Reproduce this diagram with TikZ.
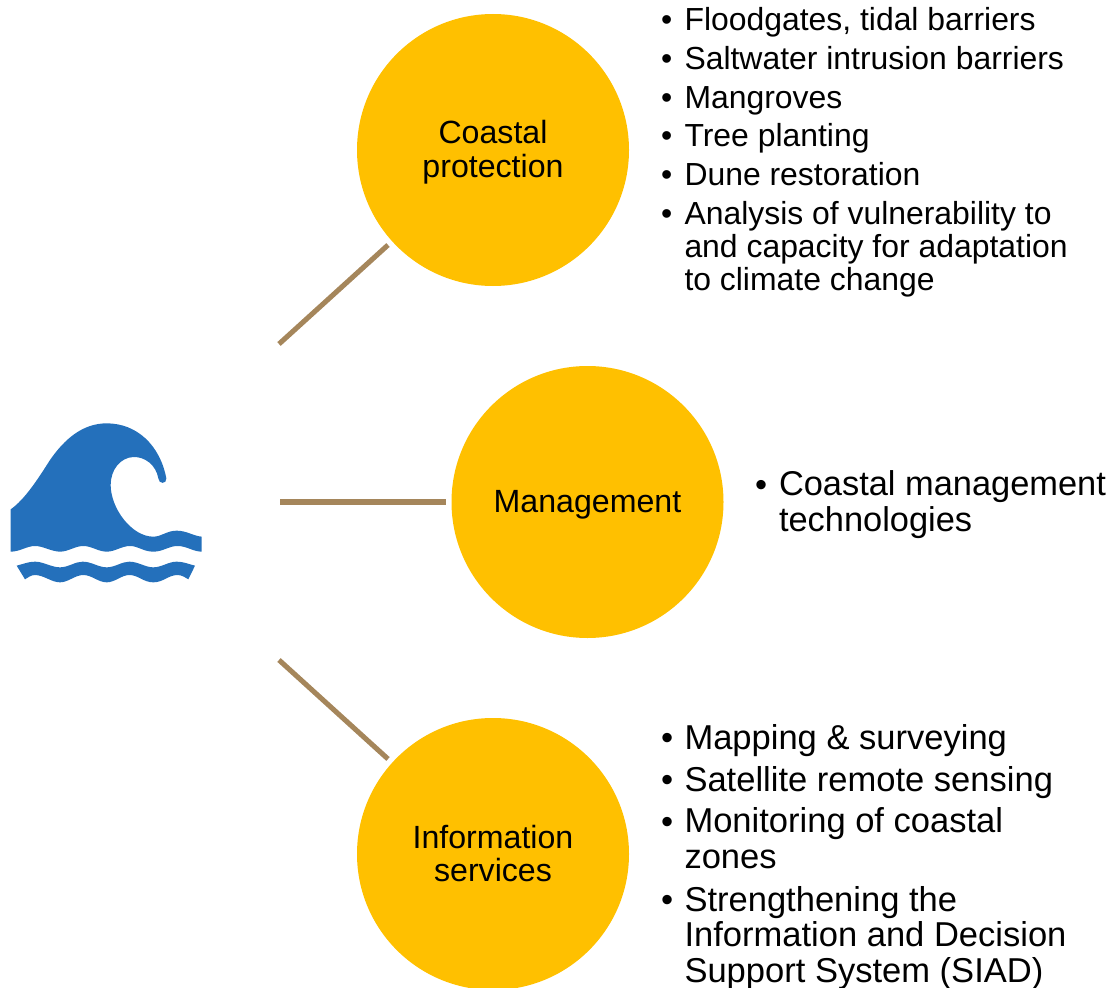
\documentclass[tikz,border=0pt]{standalone}
\usepackage{fontspec}
\setmainfont{Liberation Sans}
\newcommand{\fsCircle}{\fontsize{24.1pt}{25.5pt}\selectfont}
\newcommand{\fsListA}{\fontsize{23.93pt}{24.75pt}\selectfont}
\newcommand{\fsListC}{\fontsize{25.9pt}{26.6pt}\selectfont}
\newcommand{\fsListB}{\fontsize{25.8pt}{26.6pt}\selectfont}
\definecolor{amberfill}{HTML}{FFC000}
\definecolor{linktan}{HTML}{A5865B}
\definecolor{waveblue}{HTML}{2470BB}
\tikzset{
  topic/.style={circle,fill=amberfill,minimum size=204pt,inner sep=0pt,align=center,font=\fsCircle,text=black},
  link/.style={draw=linktan,line width=3.8pt},
  txt/.style={anchor=base west,inner sep=0pt,outer sep=0pt,align=left,text=black},
  itemA/.style={txt,font=\fsListA},
  itemB/.style={txt,font=\fsListB},
  itemC/.style={txt,font=\fsListC}
}
\begin{document}
\begin{tikzpicture}[x=0.75pt,y=-0.75pt]
\useasboundingbox (0,0) rectangle (1114,988);
\begin{scope}
\clip (0,0) rectangle (1114,988);
\node[topic] (coastal) at (493,150) {};
\node[topic] (mgmt) at (587.5,502) {};
\node[topic] (info) at (493,854) {};
\end{scope}
\node[txt,anchor=base,align=center,font=\fsCircle] (lcoastal1) at (493,144) {Coastal};
\node[txt,anchor=base,align=center,font=\fsCircle] (lcoastal2) at (493,177.5) {protection};
\node[txt,anchor=base,align=center,font=\fsCircle] (lmgmt) at (587.5,512) {Management};
\node[txt,anchor=base,align=center,font=\fsCircle] (linfo1) at (493,848) {Information};
\node[txt,anchor=base,align=center,font=\fsCircle] (linfo2) at (493,881) {services};
% connectors
\coordinate (a1) at (279,344);
\coordinate (a2) at (388,245);
\coordinate (b1) at (280,502);
\coordinate (b2) at (446,502);
\coordinate (c1) at (279,660);
\coordinate (c2) at (388,759);
\draw[link] (a1) -- (a2);
\draw[link] (b1) -- (b2);
\draw[link] (c1) -- (c2);
% wave
\begin{scope}[shift={(0,410)},x=0.25pt,y=-0.25pt]
\fill[waveblue] (32,298)
  .. controls (75,268) and (115,205) .. (150,150)
  .. controls (195,85) and (250,40) .. (320,40)
  .. controls (410,40) and (480,105) .. (499,205)
  .. controls (501,222) and (476,224) .. (475,205)
  .. controls (468,165) and (435,140) .. (400,141)
  .. controls (360,143) and (332,180) .. (332,225)
  .. controls (332,295) and (395,380) .. (460,380)
  .. controls (485,380) and (500,362) .. (530,362)
  .. controls (560,362) and (580,378) .. (605,380)
  -- (605,425)
  .. controls (580,425) and (560,408) .. (533,408)
  .. controls (505,408) and (490,425) .. (460,425)
  .. controls (430,425) and (415,408) .. (390,408)
  .. controls (365,408) and (345,425) .. (320,425)
  .. controls (295,425) and (275,408) .. (250,408)
  .. controls (225,408) and (205,425) .. (180,425)
  .. controls (155,425) and (130,408) .. (105,408)
  .. controls (80,408) and (60,425) .. (32,425)
  -- cycle;
\fill[waveblue] (50,467)
  .. controls (70,462) and (85,455) .. (105,455)
  .. controls (130,455) and (155,472) .. (180,472)
  .. controls (205,472) and (225,455) .. (248,455)
  .. controls (275,455) and (295,472) .. (320,472)
  .. controls (345,472) and (365,455) .. (388,455)
  .. controls (415,455) and (435,472) .. (460,472)
  .. controls (485,472) and (505,455) .. (530,455)
  .. controls (550,455) and (565,462) .. (585,467)
  -- (565,508)
  .. controls (555,502) and (545,495) .. (533,495)
  .. controls (505,495) and (490,517) .. (460,517)
  .. controls (430,517) and (415,495) .. (388,495)
  .. controls (365,495) and (345,517) .. (320,517)
  .. controls (295,517) and (275,495) .. (250,495)
  .. controls (225,495) and (205,517) .. (180,517)
  .. controls (155,517) and (130,495) .. (105,495)
  .. controls (93,495) and (85,502) .. (75,508)
  -- cycle;
\end{scope}
% list 1 (\y = first line, \z = last line, the base of a multi-line node)
\foreach \n/\y/\z/\t in {1/31/31/{Floodgates, tidal barriers},2/70/70/{Saltwater intrusion barriers},3/109/109/{Mangroves},4/147/147/{Tree planting},5/186/186/{Dune restoration},6/224/290.5/{Analysis of vulnerability to\\and capacity for adaptation\\to climate change}}{
  \node[itemA] (ab\n) at (661,\y) {•};
  \node[itemA] (at\n) at (684.5,\z) {\t};
}
% list 2
\node[itemB] (bb1) at (755,496) {•};
\node[itemB] (bt1) at (779,531) {Coastal management\\technologies};
% list 3
\foreach \n/\y/\z/\t in {1/749/749/{Mapping \& surveying},2/791/791/{Satellite remote sensing},3/833/868/{Monitoring of coastal\\zones},4/911/982/{Strengthening the\\Information and Decision\\Support System (SIAD)}}{
  \node[itemC] (cb\n) at (661,\y) {•};
  \node[itemC] (ct\n) at (684.5,\z) {\t};
}
\end{tikzpicture}
\end{document}
